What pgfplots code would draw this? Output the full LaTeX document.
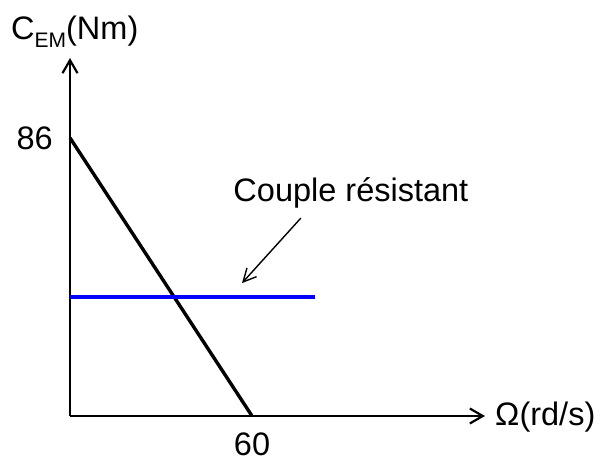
\documentclass[border=0pt]{standalone}
\usepackage{fontspec}
\setmainfont{Liberation Sans}
\usepackage{pgfplots}
\pgfplotsset{compat=1.18}
\usetikzlibrary{arrows.meta}
\begin{document}
\begin{tikzpicture}
\useasboundingbox (-70bp,-45bp) rectangle (534bp,416bp);
\begin{axis}[
  scale only axis,
  width=415bp, height=358bp,
  xmin=0, xmax=136.8, ymin=0, ymax=110.7,
  axis lines=none,
  clip=false,
  font=\fontsize{32.5bp}{38bp}\selectfont,
]
\draw[line width=2.2bp,-{Straight Barb[length=13bp,width=15bp]}] (axis cs:0,0) -- (axis cs:136.8,0);
\draw[line width=2.2bp,-{Straight Barb[length=13bp,width=15bp]}] (axis cs:0,0) -- (axis cs:0,110.7);
\addplot[black, line width=3.4bp] coordinates {(0,86) (60,0)};
\addplot[blue, line width=3.6bp] coordinates {(0,36.8) (80.8,36.8)};
\draw[line width=1.4bp,-{Straight Barb[length=13bp,width=13bp]}] (axis cs:76.1,61.2) -- (axis cs:56.7,41.1);
\node[anchor=base, inner sep=0pt] at (axis cs:92.6,66.2) {Couple résistant};
\node[anchor=east, inner sep=0pt, xshift=-17bp] at (axis cs:0,86) {86};
\node[anchor=north, inner sep=0pt, yshift=-17bp] at (axis cs:60,0) {60};
\node[anchor=base west, inner sep=0pt] at (axis cs:-19.45,116.3) {C\raisebox{-0.22em}{\fontsize{21bp}{24bp}\selectfont EM}(Nm)};
\node[anchor=base west, inner sep=0pt] at (axis cs:140.1,-2.8) {Ω(rd/s)};
\end{axis}
\end{tikzpicture}
\end{document}
